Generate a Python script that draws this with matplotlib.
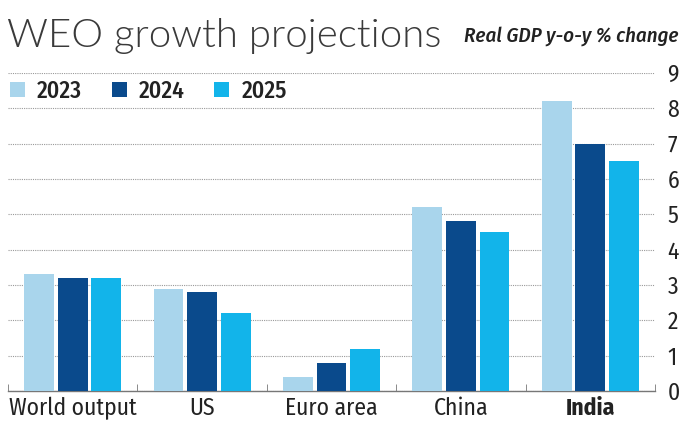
import numpy as np
import matplotlib.pyplot as plt
from matplotlib import font_manager

categories = ['World output', 'US', 'Euro area', 'China', 'India']
years = ['2023', '2024', '2025']
vals_2023 = [3.3, 2.9, 0.4, 5.2, 8.2]
vals_2024 = [3.2, 2.8, 0.8, 4.8, 7.0]
vals_2025 = [3.2, 2.2, 1.2, 4.5, 6.5]
colors = ['#a9d5ec', '#0a4a8c', '#12b4ea']

fonts = font_manager.fontManager.ttflist
names = {f.name for f in fonts}


def pick(prefs):
    for p in prefs:
        if p in names:
            return p
    return 'DejaVu Sans'


cond = pick(['Fira Sans Condensed', 'Roboto Condensed', 'Encode Sans Condensed',
             'Archivo Narrow', 'Liberation Sans Narrow'])
plt.rcParams['font.family'] = [cond, 'DejaVu Sans']

# title font: a real 300-weight upright face if one exists
title_prop = None
for fam in ['Lato', 'Source Sans 3', 'Open Sans', 'Fira Sans', 'Roboto']:
    hits = [f for f in fonts if f.name == fam and f.weight == 300
            and f.style == 'normal' and f.stretch == 'normal']
    if hits:
        title_prop = font_manager.FontProperties(fname=hits[0].fname, size=29)
        break
if title_prop is None:
    title_prop = font_manager.FontProperties(family='DejaVu Sans', size=28)

fig = plt.figure(figsize=(6.81, 4.25), dpi=100)
ax = fig.add_axes([8/681, 34/425, 647/681, 318/425])

x = np.arange(len(categories))
w = 0.23
step = 0.26
for i, (vals, yr) in enumerate(zip([vals_2023, vals_2024, vals_2025], years)):
    ax.bar(x + (i - 1) * step, vals, width=w, color=colors[i], label=yr, zorder=3)

ax.set_xlim(-0.5, 4.5)
ax.set_ylim(0, 9)
ax.set_yticks(range(0, 10))
ax.yaxis.tick_right()
ax.tick_params(axis='y', length=0, labelsize=17, pad=9, colors='#222222')
ax.grid(axis='y', linestyle=(0, (1, 1)), color='#9a9a9a', linewidth=0.8, zorder=0)
ax.set_axisbelow(True)
for s in ['top', 'left', 'right']:
    ax.spines[s].set_visible(False)
ax.spines['bottom'].set_color('#777777')
ax.spines['bottom'].set_linewidth(1.0)

ax.set_xticks(x)
ax.set_xticklabels(categories, fontsize=17, color='#222222')
ax.get_xticklabels()[-1].set_fontweight('bold')
ax.tick_params(axis='x', which='major', length=0, pad=4)
ax.set_xticks(np.arange(-0.5, 5, 1), minor=True)
ax.tick_params(axis='x', which='minor', direction='in', length=5, color='#777777')

leg = ax.legend(ncol=3, loc='center left', bbox_to_anchor=(0.003, 0.943), frameon=False,
                prop={'size': 17, 'weight': 'medium'},
                handlelength=0.65, handleheight=0.65, handletextpad=0.5,
                columnspacing=1.25, borderpad=0, borderaxespad=0)
for t in leg.get_texts():
    t.set_color('#222222')

fig.text(7/681, 1 - 47/425, 'WEO growth projections', fontproperties=title_prop,
         color='#3a3a3a', va='baseline')
fig.text(678/681, 1 - 42/425, 'Real GDP y-o-y % change', fontsize=15, fontweight='medium',
         style='italic', color='#222222', ha='right', va='baseline')

fig.savefig('out.png', dpi=100, facecolor='white')
